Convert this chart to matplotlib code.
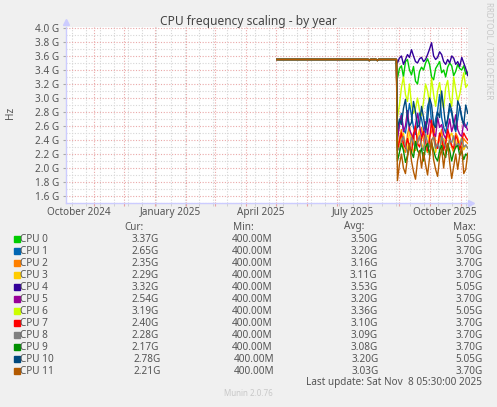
import matplotlib
matplotlib.use("Agg")
import matplotlib.pyplot as plt
import matplotlib.dates as mdates
from matplotlib.patches import Rectangle
import pandas as pd

plt.rcParams['font.family'] = ['Noto Sans', 'DejaVu Sans']

W, H = 497, 407

cpu_names = ["CPU 0", "CPU 1", "CPU 2", "CPU 3", "CPU 4", "CPU 5",
             "CPU 6", "CPU 7", "CPU 8", "CPU 9", "CPU 10", "CPU 11"]
colors = ["#00cc00", "#0066b3", "#ff8000", "#ffcc00", "#330099", "#990099",
          "#ccff00", "#ff0000", "#808080", "#008f00", "#00487d", "#b35a00"]

cur = ["3.37G", "2.65G", "2.35G", "2.29G", "3.32G", "2.54G",
       "3.19G", "2.40G", "2.28G", "2.17G", "2.78G", "2.21G"]
mins = ["400.00M"] * 12
avg = ["3.50G", "3.20G", "3.16G", "3.11G", "3.53G", "3.20G",
       "3.36G", "3.10G", "3.09G", "3.08G", "3.20G", "3.03G"]
maxs = ["5.05G", "3.70G", "3.70G", "3.70G", "5.05G", "3.70G",
        "5.05G", "3.70G", "3.70G", "3.70G", "5.05G", "3.70G"]

# flat period, same for every cpu (GHz)
flat_dates = pd.to_datetime(["2025-05-02", "2025-08-01", "2025-08-02", "2025-08-03",
                             "2025-08-09", "2025-08-10", "2025-08-11", "2025-08-29"])
flat_vals = [3.55, 3.55, 3.535, 3.55, 3.55, 3.535, 3.55, 3.55]

# noisy period, one point every two days
noisy_dates = pd.date_range("2025-08-30", periods=36, freq="2D")

cpu0 = [3.28, 3.42, 3.46, 3.30, 3.52, 3.55, 3.40, 3.33, 3.45, 3.24, 3.20, 3.38,
        3.44, 3.40, 3.50, 3.56, 3.48, 3.30, 3.26, 3.42, 3.47, 3.52, 3.36, 3.40,
        3.30, 3.44, 3.50, 3.46, 3.32, 3.38, 3.48, 3.42, 3.40, 3.46, 3.34, 3.37]
cpu1 = [2.45, 2.62, 2.78, 2.55, 2.50, 2.70, 2.92, 2.75, 2.58, 2.48, 2.62, 2.80,
        2.70, 2.55, 2.50, 2.88, 2.98, 2.65, 2.52, 2.70, 2.82, 3.05, 2.72, 2.58,
        2.50, 2.68, 2.85, 2.78, 2.60, 2.52, 2.70, 2.88, 2.74, 2.62, 2.58, 2.65]
cpu2 = [2.30, 2.42, 2.55, 2.28, 2.22, 2.48, 2.60, 2.38, 2.50, 2.25, 2.35, 2.42,
        2.58, 2.40, 2.28, 2.22, 2.45, 2.52, 2.62, 2.35, 2.30, 2.42, 2.55, 2.28,
        2.36, 2.48, 2.40, 2.30, 2.22, 2.50, 2.44, 2.32, 2.28, 2.42, 2.38, 2.35]
cpu3 = [2.35, 2.28, 2.42, 2.50, 2.32, 2.25, 2.52, 2.40, 2.22, 2.30, 2.44, 2.55,
        2.35, 2.28, 2.38, 2.50, 2.32, 2.40, 2.45, 2.22, 2.35, 2.48, 2.30, 2.42,
        2.36, 2.25, 2.45, 2.50, 2.38, 2.28, 2.42, 2.35, 2.44, 2.26, 2.32, 2.29]
cpu4 = [3.50, 3.57, 3.60, 3.48, 3.55, 3.62, 3.58, 3.69, 3.60, 3.52, 3.50, 3.56,
        3.58, 3.52, 3.55, 3.62, 3.70, 3.79, 3.60, 3.55, 3.58, 3.66, 3.62, 3.52,
        3.48, 3.55, 3.50, 3.60, 3.57, 3.48, 3.52, 3.45, 3.58, 3.50, 3.42, 3.32]
cpu5 = [2.40, 2.62, 2.75, 2.52, 2.60, 2.82, 2.55, 2.48, 2.42, 2.62, 2.78, 2.60,
        2.45, 2.50, 2.66, 2.48, 2.70, 2.62, 2.50, 2.45, 2.72, 2.58, 2.62, 2.48,
        2.42, 2.55, 2.70, 2.52, 2.62, 2.76, 2.55, 2.48, 2.45, 2.66, 2.60, 2.54]
cpu6 = [2.72, 2.90, 3.15, 3.30, 3.05, 2.95, 3.20, 2.90, 2.78, 2.85, 3.00, 2.82,
        2.75, 2.95, 3.20, 3.10, 2.92, 3.28, 3.05, 2.88, 3.10, 3.22, 2.98, 2.85,
        3.15, 3.25, 3.00, 2.88, 3.30, 3.12, 2.95, 3.05, 3.22, 3.36, 3.15, 3.19]
cpu7 = [2.25, 2.38, 2.50, 2.35, 2.28, 2.42, 2.30, 2.22, 2.48, 2.60, 2.35, 2.30,
        2.42, 2.52, 2.38, 2.25, 2.40, 2.68, 2.45, 2.32, 2.28, 2.50, 2.42, 2.25,
        2.36, 2.55, 2.45, 2.32, 2.28, 2.46, 2.40, 2.26, 2.38, 2.50, 2.44, 2.40]
cpu8 = [2.30, 2.25, 2.38, 2.45, 2.32, 2.22, 2.30, 2.44, 2.35, 2.28, 2.38, 2.46,
        2.30, 2.25, 2.48, 2.36, 2.30, 2.40, 2.44, 2.28, 2.35, 2.26, 2.45, 2.38,
        2.30, 2.28, 2.40, 2.36, 2.46, 2.30, 2.35, 2.32, 2.42, 2.30, 2.33, 2.28]
cpu9 = [2.10, 2.22, 2.35, 2.25, 2.08, 2.18, 2.32, 2.22, 2.15, 2.38, 2.25, 2.20,
        2.28, 2.10, 2.30, 2.35, 2.18, 2.36, 2.25, 2.15, 2.10, 2.25, 2.32, 2.20,
        2.15, 2.35, 2.25, 2.10, 2.22, 2.30, 2.32, 2.18, 2.24, 2.12, 2.20, 2.17]
cpu10 = [2.55, 2.70, 2.62, 2.85, 2.98, 2.72, 2.60, 2.65, 2.95, 2.80, 2.58, 2.62,
         2.88, 2.72, 2.55, 2.68, 3.00, 2.90, 2.62, 2.58, 2.80, 2.72, 3.10, 2.85,
         2.60, 2.70, 2.92, 2.82, 2.64, 2.55, 2.96, 2.88, 2.70, 2.62, 2.90, 2.78]
cpu11 = [1.82, 2.05, 2.20, 2.00, 1.92, 2.15, 2.35, 2.10, 1.95, 1.84, 2.10, 2.25,
         2.00, 2.22, 2.05, 1.90, 2.15, 2.40, 2.12, 1.98, 1.88, 2.15, 2.28, 2.00,
         2.25, 2.35, 2.08, 1.85, 2.02, 2.20, 1.98, 2.18, 2.30, 1.92, 1.98, 2.21]
series = [cpu0, cpu1, cpu2, cpu3, cpu4, cpu5, cpu6, cpu7, cpu8, cpu9, cpu10, cpu11]

label_dates = pd.to_datetime(["2024-10-16 12:00", "2025-01-16 12:00", "2025-04-16 12:00",
                              "2025-07-16 12:00", "2025-10-16 12:00"])
label_texts = ["October 2024", "January 2025", "April 2025", "July 2025", "October 2025"]

start = pd.Timestamp("2024-10-04 05:30")
end = pd.Timestamp("2025-11-08 05:30")

txt = "#555555"
fig = plt.figure(figsize=(W / 100, H / 100), dpi=100, facecolor="#f0f0f0")
ax = fig.add_axes([66 / W, 1 - 203 / H, (468 - 66) / W, (203 - 27) / H])
ax.set_facecolor("white")

for vals, col in zip(series, colors):
    xs = list(flat_dates) + list(noisy_dates)
    ys = flat_vals + vals
    ax.plot(xs, ys, color=col, lw=1.0)

ax.set_xlim(start, end)
ax.set_ylim(1.5, 4.014)

ax.set_yticks([1.6 + 0.2 * i for i in range(13)])
ax.set_yticks([1.5 + 0.2 * i for i in range(13)], minor=True)
ax.set_yticklabels(["%.1f G" % (1.6 + 0.2 * i) for i in range(13)])

ax.xaxis.set_major_locator(mdates.MonthLocator())
ax.xaxis.set_minor_locator(mdates.RRuleLocator(
    mdates.rrulewrapper(mdates.DAILY, interval=14, dtstart=pd.Timestamp("2024-10-12").to_pydatetime())))
ax.set_xticklabels([])

ax.grid(which="major", color="#eaa8a8", linestyle=(0, (1, 1.5)), lw=0.8)
ax.grid(which="minor", color="#d6d6d6", linestyle=(0, (1, 1.5)), lw=0.8)
ax.set_axisbelow(True)

ax.tick_params(axis="y", which="major", length=2, color="#aaaaaa", labelsize=7.2,
               labelcolor=txt, pad=3)
ax.tick_params(axis="y", which="minor", length=0)
ax.tick_params(axis="x", which="major", length=2, color="#e8a0a0")
ax.tick_params(axis="x", which="minor", length=2, color="#cccccc")

for s in ["top", "right"]:
    ax.spines[s].set_visible(False)
for s in ["left", "bottom"]:
    ax.spines[s].set_color("#ccccff")
    ax.spines[s].set_linewidth(1.0)

# axis arrows
ax.plot([0], [1.03], marker="^", color="#ccccff", ms=5, transform=ax.transAxes, clip_on=False)
ax.plot([1.008], [0], marker=">", color="#ccccff", ms=5, transform=ax.transAxes, clip_on=False)

for d, t in zip(label_dates, label_texts):
    ax.text(d, -0.055, t, transform=ax.get_xaxis_transform(), ha="center", va="center",
            fontsize=7.2, color=txt)


def ftext(x, y, s, **kw):
    fig.text(x / W, 1 - y / H, s, **kw)


ftext(248, 21, "CPU frequency scaling - by year", ha="center", va="center",
      fontsize=8.6, color="#444444")
ftext(11, 113, "Hz", ha="center", va="center", rotation=90, fontsize=7.2, color=txt)
ftext(488, 51, "RRDTOOL / TOBI OETIKER", ha="center", va="center", rotation=270,
      fontsize=5.8, color="#c8c8c8")

ftext(144, 227, "Cur:", ha="right", va="center", fontsize=7.2, color=txt)
ftext(254, 227, "Min:", ha="right", va="center", fontsize=7.2, color=txt)
ftext(364, 227, "Avg:", ha="right", va="center", fontsize=7.2, color=txt)
ftext(476, 227, "Max:", ha="right", va="center", fontsize=7.2, color=txt)

for i, name in enumerate(cpu_names):
    y = 239 + 12 * i
    shift = 2 if i >= 10 else 0
    fig.patches.append(Rectangle((14 / W, 1 - (y + 3) / H), 6 / W, 6 / H,
                                 transform=fig.transFigure, color=colors[i]))
    ftext(20.5, y, name, ha="left", va="center", fontsize=7.2, color=txt)
    ftext(159 + shift, y, cur[i], ha="right", va="center", fontsize=7.2, color=txt)
    ftext(272 + shift, y, mins[i], ha="right", va="center", fontsize=7.2, color=txt)
    ftext(377.5 + shift / 2, y, avg[i], ha="right", va="center", fontsize=7.2, color=txt)
    ftext(482.5, y, maxs[i], ha="right", va="center", fontsize=7.2, color=txt)

ftext(482, 383, "Last update: Sat Nov  8 05:30:00 2025", ha="right", va="center",
      fontsize=7.2, color=txt)
ftext(248, 394, "Munin 2.0.76", ha="center", va="center", fontsize=5.8, color="#c8c8c8")

fig.savefig("out.png", dpi=100, facecolor=fig.get_facecolor())
